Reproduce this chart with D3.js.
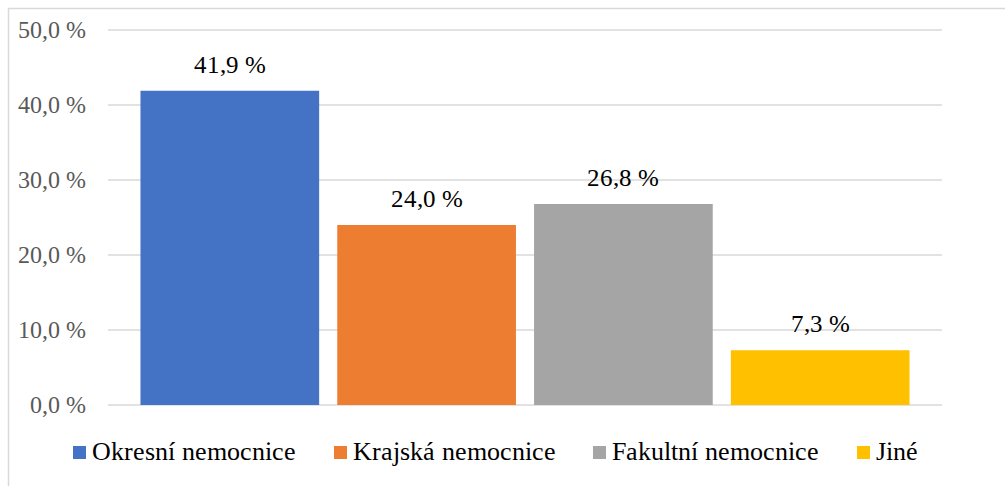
<!DOCTYPE html>
<html><head><meta charset="utf-8"><script src="https://cdn.jsdelivr.net/npm/d3@7"></script>
<style>
  @font-face { font-family: "ChartSerif"; src: local("Liberation Serif"), local("LiberationSerif"), local("Tinos"), local("FreeSerif"); }
  svg text { font-family: "ChartSerif", "Tinos", "Times New Roman", "FreeSerif" !important; }
</style>
</head>
<body style="margin:0">
<svg width="1005" height="486" id="chart"></svg>
<script>
var font = "ChartSerif, Tinos, 'Times New Roman', FreeSerif";

// data
var categories = ["Okresní nemocnice", "Krajská nemocnice", "Fakultní nemocnice", "Jiné"];
var values = [41.9, 24.0, 26.8, 7.3];
var colors = ["#4472c4", "#ed7d31", "#a5a5a5", "#ffc000"];
var yTicks = [0, 10, 20, 30, 40, 50];

var fmt = function(v) { return v.toFixed(1).replace(".", ",") + " %"; };

var svg = d3.select("#chart");

// chart border (runs off the right and bottom edge)
svg.append("rect")
  .attr("x", 8.5).attr("y", 8.5)
  .attr("width", 1100).attr("height", 600)
  .attr("fill", "none")
  .attr("stroke", "#d9d9d9")
  .attr("stroke-width", 1.5);

var x = d3.scaleBand()
  .domain(categories)
  .range([108, 942])
  .paddingInner(0.092)
  .paddingOuter(0.165);

var y = d3.scaleLinear()
  .domain([0, 50])
  .range([405, 30]);

// gridlines + y labels
yTicks.forEach(function(t) {
  svg.append("line")
    .attr("x1", 108).attr("x2", 942)
    .attr("y1", y(t)).attr("y2", y(t))
    .attr("stroke", "#d9d9d9")
    .attr("stroke-width", 1.5);
  svg.append("text")
    .attr("x", 86).attr("y", y(t) + 8)
    .attr("text-anchor", "end")
    .attr("font-family", font)
    .attr("font-size", 24)
    .attr("fill", "#595959")
    .text(fmt(t));
});

// bars + value labels
values.forEach(function(v, i) {
  svg.append("rect")
    .attr("x", x(categories[i]))
    .attr("y", y(v))
    .attr("width", x.bandwidth())
    .attr("height", y(0) - y(v))
    .attr("fill", colors[i]);
  svg.append("text")
    .attr("x", x(categories[i]) + x.bandwidth() / 2)
    .attr("y", y(v) - 18)
    .attr("text-anchor", "middle")
    .attr("font-family", font)
    .attr("font-size", 25)
    .attr("fill", "#000")
    .text(fmt(v));
});

// legend
var legendX = [73, 334, 593, 857];
categories.forEach(function(c, i) {
  svg.append("rect")
    .attr("x", legendX[i]).attr("y", 446)
    .attr("width", 13).attr("height", 13)
    .attr("fill", colors[i]);
  svg.append("text")
    .attr("x", legendX[i] + 19).attr("y", 460)
    .attr("font-family", font)
    .attr("font-size", 26)
    .attr("fill", "#000")
    .text(c);
});
</script>
</body></html>
